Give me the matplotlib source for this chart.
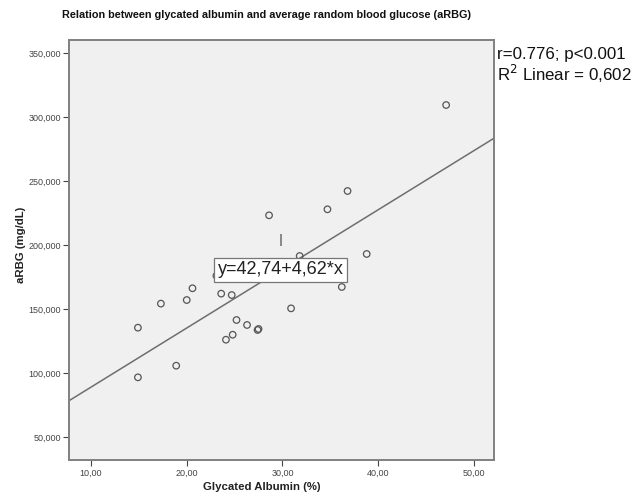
import matplotlib
matplotlib.use("Agg")
import matplotlib.pyplot as plt
import numpy as np
from matplotlib.ticker import FuncFormatter

plt.rcParams['font.family'] = ['Liberation Sans', 'DejaVu Sans']

# Data
glycated_albumin = [47.1, 36.8, 34.7, 28.6, 31.8, 38.8, 23.1, 20.6, 20.0, 23.6, 24.7,
                    36.2, 30.9, 25.2, 26.3, 27.4, 27.5, 24.8, 24.1, 17.3, 14.9, 18.9, 14.9]
arbg = [309.4, 242.2, 227.9, 223.2, 191.4, 193.0, 176.0, 166.2, 157.0, 162.0, 160.9,
        167.2, 150.5, 141.4, 137.5, 133.6, 134.4, 129.9, 126.0, 154.2, 135.4, 105.7, 96.6]
intercept = 42.74
slope = 4.62
x_ticks = [10, 20, 30, 40, 50]
y_ticks = [50, 100, 150, 200, 250, 300, 350]
title = "Relation between glycated albumin and average random blood glucose (aRBG)"
stats_line1 = "r=0.776; p<0.001"
stats_line2 = "R$^2$ Linear = 0,602"
equation = "y=42,74+4,62*x"

fig = plt.figure(figsize=(6.34, 4.97), dpi=100)
ax = fig.add_axes([69/634, 37/497, (494-69)/634, (460-40)/497])
ax.set_facecolor('#F0F0F0')
xmin, xmax = 7.7, 52.1
ymin, ymax = 32.0, 360.2
ax.set_xlim(xmin, xmax)
ax.set_ylim(ymin, ymax)

xs = np.array([xmin, xmax])
ax.plot(xs, intercept + slope * xs, color='#6e6e6e', lw=1.1, zorder=2)
ax.scatter(glycated_albumin, arbg, s=22, facecolors='none', edgecolors='#555555',
           linewidths=0.9, zorder=3)

# small vertical mark seen in the chart
ax.plot([29.86], [204], marker='|', markersize=8, color='#777777', mew=1.2, zorder=3)

ax.text(29.8, 180.6, equation, fontsize=13, ha='center', va='center', color='#222222',
        bbox=dict(boxstyle='square,pad=0.18', fc='white', ec='#777777', lw=0.9), zorder=4)

ax.set_xticks(x_ticks)
ax.set_yticks(y_ticks)
ax.xaxis.set_major_formatter(FuncFormatter(lambda v, p: f"{v:.2f}".replace('.', ',')))
ax.yaxis.set_major_formatter(FuncFormatter(lambda v, p: f"{v:.3f}".replace('.', ',')))
ax.tick_params(axis='both', labelsize=6.5, colors='#444444', length=4, width=0.8,
               direction='out', pad=2)
for sp in ax.spines.values():
    sp.set_color('#808080')
    sp.set_linewidth(1.4)

fig.text(266/634, 1 - 15/497, title, fontsize=7.8, fontweight='bold', ha='center',
         va='center', color='#111111')
fig.text(262/634, 1 - 487/497, "Glycated Albumin (%)", fontsize=8.2, fontweight='bold',
         ha='center', va='center', color='#222222')
fig.text(21/634, 1 - 245/497, "aRBG (mg/dL)", fontsize=8.2, fontweight='bold',
         ha='center', va='center', rotation=90, color='#222222')
fig.text(497/634, 1 - 55/497, stats_line1, fontsize=12.2, ha='left', va='center', color='#111111')
fig.text(497/634, 1 - 74/497, stats_line2, fontsize=12.2, ha='left', va='center', color='#111111')

fig.savefig('out.png', dpi=100)
